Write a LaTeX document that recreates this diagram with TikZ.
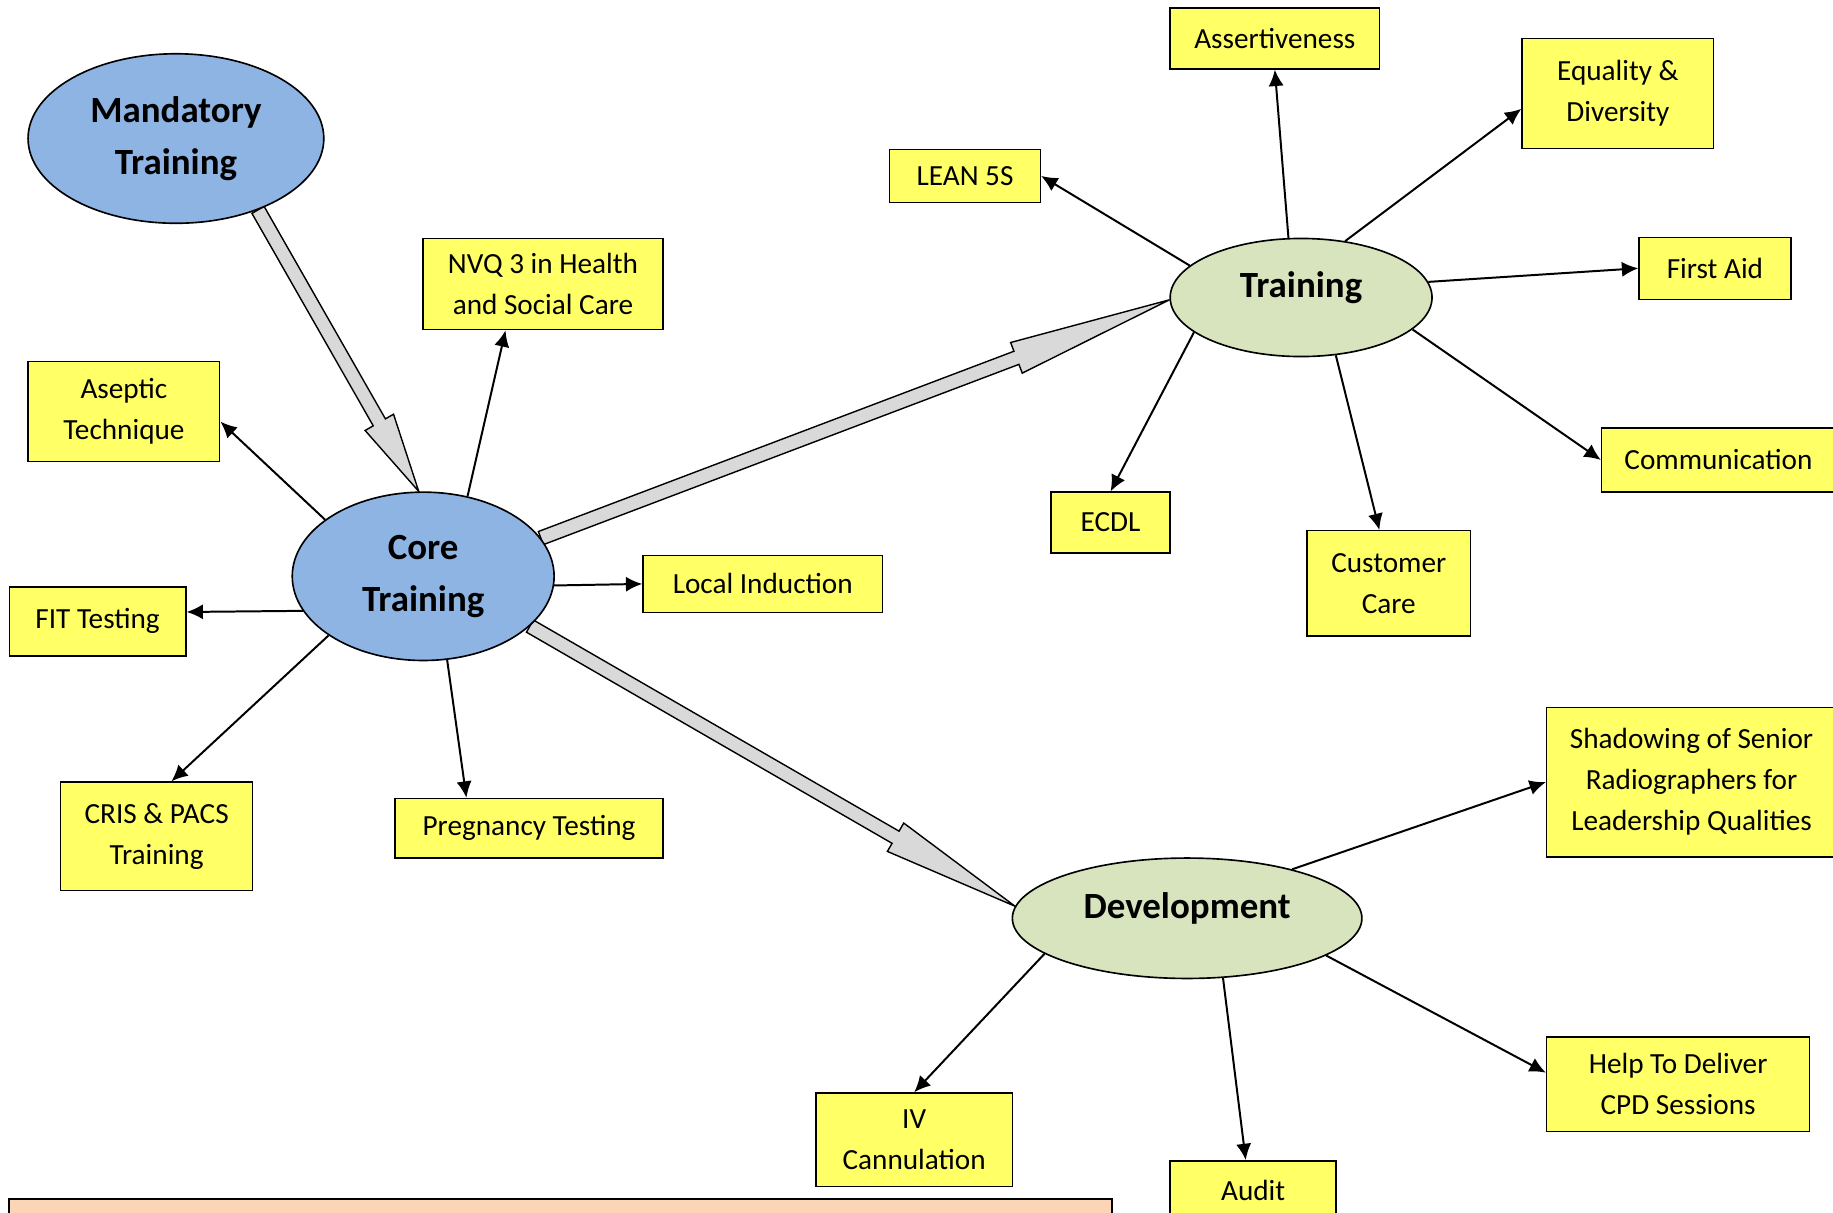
\documentclass[tikz,border=0pt]{standalone}
\usepackage{fontspec}
\setmainfont{Carlito}
\usetikzlibrary{shapes.geometric,arrows.meta,calc,backgrounds}

\definecolor{hubblue}{HTML}{8EB4E3}
\definecolor{hubgreen}{HTML}{D7E4BD}
\definecolor{topicyellow}{HTML}{FFFF66}
\definecolor{notepeach}{HTML}{FBD5B5}
\definecolor{blockgray}{HTML}{D9D9D9}

\tikzset{
  hub/.style={ellipse, draw, line width=0.7pt, inner sep=0pt, align=center,
    font=\fontsize{15.8}{22.5}\selectfont\bfseries},
  topic/.style 2 args={draw, fill=topicyellow, line width=0.6pt, inner sep=0pt, align=center,
    minimum width=#1, minimum height=#2, font=\fontsize{12.5}{17.5}\selectfont},
  link/.style={line width=0.85pt, -{Latex[length=7pt,width=6.5pt]}},
  bigarrow/.style={draw, fill=blockgray, line width=0.6pt, line join=miter}
}

% wide grey arrow between two hubs: start, tip, head length
\newcommand\blockarrow[3]{%
  \coordinate (ba-s) at (#1);
  \coordinate (ba-t) at (#2);
  \coordinate (ba-h) at ($(ba-t)!#3!(ba-s)$);
  \draw[bigarrow] ($(ba-s)!3pt!90:(ba-t)$) -- ($(ba-h)!3pt!90:(ba-t)$)
    -- ($(ba-h)!7pt!90:(ba-t)$) -- (ba-t) -- ($(ba-h)!7pt!-90:(ba-t)$)
    -- ($(ba-h)!3pt!-90:(ba-t)$) -- ($(ba-s)!3pt!-90:(ba-t)$) -- cycle;}

\begin{document}
\begin{tikzpicture}[x=0.5pt,y=-0.5pt]
  \useasboundingbox (0,0) rectangle (1568,1037);
  \clip (0,0) rectangle (1568,1037);

  % Hubs
  \node[hub, fill=hubblue, minimum width=126.5pt, minimum height=72.5pt] (mand) at (150.5,118.5) {Mandatory\\Training};
  \node[hub, fill=hubblue, minimum width=112pt, minimum height=72pt] (core) at (362,493) {Core\\Training};
  \node[hub, fill=hubgreen, minimum width=112pt, minimum height=50.5pt, text height=11pt, text depth=11pt] (train) at (1113,254.5) {Training};
  \node[hub, fill=hubgreen, minimum width=149.5pt, minimum height=51.5pt, text height=11pt, text depth=11pt] (dev) at (1015.5,785.5) {Development};

  % Core training topics
  \node[topic={102.5pt}{39pt}] (nvq) at (464.5,243) {NVQ 3 in Health\\and Social Care};
  \node[topic={82pt}{43pt}] (asep) at (106,352) {Aseptic\\Technique};
  \node[topic={102.5pt}{24.5pt}] (loc) at (652.5,499.5) {Local Induction};
  \node[topic={75.5pt}{29.5pt}] (fit) at (83.5,531.5) {FIT Testing};
  \node[topic={82pt}{46.5pt}] (cris) at (134,715.5) {CRIS \& PACS\\Training};
  \node[topic={114.5pt}{25.5pt}] (preg) at (452.5,708.5) {Pregnancy Testing};

  % Training topics
  \node[topic={89.5pt}{26pt}] (assert) at (1090.5,33) {Assertiveness};
  \node[topic={82pt}{47pt}] (equal) at (1384,80) {Equality \&\\Diversity};
  \node[topic={64.5pt}{22.5pt}] (lean) at (825.5,150.5) {LEAN 5S};
  \node[topic={65pt}{26.5pt}] (aid) at (1467,229.5) {First Aid};
  \node[topic={100pt}{27.5pt}] (comm) at (1470,393.5) {Communication};
  \node[topic={51pt}{26pt}] (ecdl) at (950,447) {ECDL};
  \node[topic={70pt}{45pt}] (cust) at (1188,499) {Customer\\Care};

  % Development topics
  \node[topic={124pt}{64pt}] (shadow) at (1447,669) {Shadowing of Senior\\Radiographers for\\Leadership Qualities};
  \node[topic={112.5pt}{40.5pt}] (cpd) at (1435.5,927.5) {Help To Deliver\\CPD Sessions};
  \node[topic={84pt}{40pt}] (iv) at (782,975) {IV\\Cannulation};
  \node[topic={71pt}{25pt}] (audit) at (1072,1018) {Audit};

  % Note box at the bottom
  \draw[fill=notepeach, line width=0.8pt] (8,1026) rectangle (951,1060);

  % Links from hubs to topics
  \foreach \from/\to in {core.150/asep.-6, core.61/nvq.-129, core.-4/loc.west, core.196/fit.6,
      core.212/cris.75, core.-74/preg.154,
      train.164/lean.east, train.102/assert.south, train.52/equal.189, train.7/aid.west,
      train.-16/comm.west, train.198/ecdl.north, train.-59/cust.100,
      dev.25/shadow.west, dev.-15/cpd.175, dev.194/iv.north, dev.-59/audit.104}
    \draw[link] (\from) -- (\to);

  % Grey arrows between hubs
  \begin{pgfonlayer}{background}
    \fill[white] (0,0) rectangle (1568,1037);
    \blockarrow{mand.-41}{core.93}{34pt}
    \blockarrow{core.18}{train.181}{70pt}
    \blockarrow{core.-25}{dev.176}{59pt}
  \end{pgfonlayer}
\end{tikzpicture}
\end{document}
